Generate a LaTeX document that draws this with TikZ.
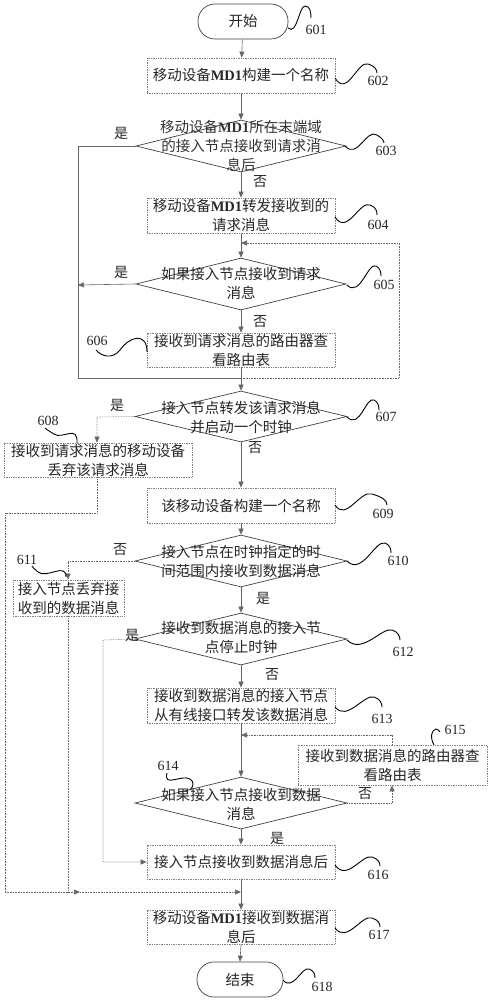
\documentclass[tikz,border=0pt]{standalone}
\usepackage{fontspec}
\setmainfont{Liberation Serif}
\newfontfamily\cjk{Noto Sans CJK SC}
\usetikzlibrary{shapes.geometric,arrows.meta}
\newcommand\mdone{{\rmfamily\bfseries MD1}}
\begin{document}
\begin{tikzpicture}[x=1pt,y=-1pt,
  ln/.style={draw=black!60, line width=0.6pt},
  dln/.style={ln, densely dotted},
  arr/.style={-{Triangle[length=6pt,width=5pt]}},
  cjktext/.style={font=\cjk\fontsize{14.5}{19}\selectfont, text=black!85, align=center},
  box/.style={cjktext, draw=black!50, densely dotted, line width=0.7pt, inner sep=0pt},
  term/.style={cjktext, draw=black!75, line width=0.7pt, rounded corners=17pt, inner sep=0pt},
  dia/.style={diamond, draw=black!75, line width=0.7pt, inner sep=0pt, minimum width=212pt, minimum height=52pt},
  num/.style={font=\fontsize{14}{14}\selectfont, text=black!85},
  yn/.style={font=\cjk\fontsize{14}{14}\selectfont, text=black!85},
  sq/.style={draw=black, line width=0.9pt}
]
\useasboundingbox (0,0) rectangle (488,1000);

% ---- nodes ----
\node[term, minimum width=90pt, minimum height=35pt] (s601) at (243,21.5) {开始};
\node[box, minimum width=188pt, minimum height=35pt] (b602) at (241,75.5) {移动设备\mdone 构建一个名称};
\node[dia, minimum width=210pt] (d603) at (241,146) {};
\node[cjktext, text=black!80] (t603) at (241,146) {移动设备\mdone 所在末端域\\的接入节点接收到请求消\\息后};
\node[box, minimum width=188pt, minimum height=35pt] (b604) at (241,215.5) {移动设备\mdone 转发接收到的\\请求消息};
\node[dia, minimum width=210pt] (d605) at (241,284) {};
\node[cjktext] (t605) at (241,283.5) {如果接入节点接收到请求\\消息};
\node[box, minimum width=188pt, minimum height=34pt] (b606) at (241,350) {接收到请求消息的路由器查\\看路由表};
\node[dia, minimum height=51pt] (d607) at (241,416.5) {};
\node[cjktext] (t607) at (241,417.5) {接入节点转发该请求消息\\并启动一个时钟};
\node[box, minimum width=188pt, minimum height=34pt] (b608) at (98,460) {接收到请求消息的移动设备\\丢弃该请求消息};
\node[box, minimum width=188pt, minimum height=35pt] (b609) at (241,505.5) {该移动设备构建一个名称};
\node[dia] (d610) at (241,561) {};
\node[cjktext] (t610) at (241,561) {接入节点在时钟指定的时\\间范围内接收到数据消息};
\node[box, minimum width=111pt, minimum height=36pt] (b611) at (68.5,598) {接入节点丢弃接\\收到的数据消息};
\node[dia] (d612) at (241,639) {};
\node[cjktext] (t612) at (241,637.5) {接收到数据消息的接入节\\点停止时钟};
\node[box, minimum width=188pt, minimum height=35pt] (b613) at (241,705.5) {接收到数据消息的接入节点\\从有线接口转发该数据消息};
\node[box, minimum width=189pt, minimum height=40pt] (b615) at (392.5,765) {接收到数据消息的路由器查\\看路由表};
\node[dia] (d614) at (241,803) {};
\node[cjktext] (t614) at (241,804) {如果接入节点接收到数据\\消息};
\node[box, minimum width=188pt, minimum height=34pt] (b616) at (241,862) {接入节点接收到数据消息后};
\node[box, minimum width=188pt, minimum height=34pt] (b617) at (241,927) {移动设备\mdone 接收到数据消\\息后};
\node[term, minimum width=86pt, minimum height=35pt] (e618) at (240,979.5) {结束};

% ---- helper coordinates ----
\coordinate (L1) at (78,146);
\coordinate (L2) at (78,378);
\coordinate (J1) at (241,378);
\coordinate (R1) at (399,378);
\coordinate (R2) at (399,243);
\coordinate (J0) at (241,243);
\coordinate (L3) at (78,285);
\coordinate (L4) at (97,417);
\coordinate (L5) at (68,561);
\coordinate (L6) at (103,640);
\coordinate (L7) at (103,862);
\coordinate (Q1) at (392,803);
\coordinate (Q2) at (392,735);
\coordinate (Q3) at (241,735);
\coordinate (B1) at (97,513);
\coordinate (B2) at (5,513);
\coordinate (B3) at (5,892);
\coordinate (B4) at (80,892);
\coordinate (B5) at (68,892);
\coordinate (B6) at (241,892);

% ---- connectors ----
\draw[ln,arr] (s601) -- (b602);
\draw[ln,arr] (b602) -- (d603.north);
\draw[ln] (d603.west) -- (L1) -- (L2) -- (J1);
\draw[ln,arr] (d603.south) -- (b604.north);
\draw[ln,arr] (b604.south) -- (d605.north);
\draw[dln,arr] (J1) -- (R1) -- (R2) -- (J0);
\draw[ln,arr] (d605.west) -- (L3);
\draw[ln,arr] (d605.south) -- (b606.north);
\draw[ln,arr] (b606.south) -- (d607.north);
\draw[dln,arr] (d607.west) -- (L4) -- (b608.north -| L4);
\draw[ln,arr] (d607.south) -- (b609.north);
\draw[ln,arr] (b609.south) -- (d610.north);
\draw[dln,arr] (d610.west) -- (L5) -- (b611.north -| L5);
\draw[ln,arr] (d610.south) -- (d612.north);
\draw[dln,arr] (d612.west) -- (L6) -- (L7) -- (b616.west);
\draw[ln,arr] (d612.south) -- (b613.north);
\draw[ln,arr] (b613.south) -- (d614.north);
\draw[dln,arr] (d614.east) -- (Q1) -- (b615.south -| Q1);
\draw[dln,arr] (b615.north -| Q2) -- (Q2) -- (Q3);
\draw[ln,arr] (d614.south) -- (b616.north);
\draw[ln,arr] (b616.south) -- (b617.north);
\draw[dln] (b608.south -| B1) -- (B1) -- (B2) -- (B3);
\draw[dln,arr] (B3) -- (B4);
\draw[dln,arr] (B4) -- (B6);
\draw[dln] (b611.south -| B5) -- (B5);
\draw[ln,arr] (b617.south) -- (e618.north);

% ---- yes / no labels ----
\node[yn] (y603) at (121,133) {是};
\node[yn] (n603) at (260,182) {否};
\node[yn] (y605) at (121,272) {是};
\node[yn] (n605) at (260,322) {否};
\node[yn] (y607) at (117,405) {是};
\node[yn] (n607) at (255,448) {否};
\node[yn] (n610) at (120,550) {否};
\node[yn] (y610) at (263,598) {是};
\node[yn] (y612) at (132,635) {是};
\node[yn] (n612) at (272,675) {否};
\node[yn] (n614) at (365,794) {否};
\node[yn] (y614) at (277,838) {是};

% ---- reference numbers and squiggles ----
\node[num] (n601) at (316,30) {601};
\draw[sq] (288,28) .. controls (297,36) and (299,6) .. (305,6) .. controls (310,6) and (311,12) .. (311,18);
\node[num] (n602) at (378,81) {602};
\draw[sq] (335,78) .. controls (347,98) and (358,60) .. (368,64) .. controls (375,66) and (377,70) .. (377,73);
\node[num] (n603) at (386,151) {603};
\draw[sq] (345,146) .. controls (358,160) and (366,128) .. (377,135) .. controls (382,138) and (384,141) .. (384,143);
\node[num] (n604) at (378,225) {604};
\draw[sq] (335,217) .. controls (347,236) and (360,200) .. (370,205) .. controls (376,207) and (377,211) .. (377,215);
\node[num] (n605) at (384,285) {605};
\draw[sq] (347,285) .. controls (360,298) and (368,262) .. (376,266) .. controls (380,268) and (381,272) .. (381,276);
\node[num] (n606) at (97,341) {606};
\draw[sq] (147,352) .. controls (147,332) and (130,336) .. (120,350) .. controls (112,360) and (101,356) .. (96,350);
\node[num] (n607) at (386,417) {607};
\draw[sq] (347,417) .. controls (360,430) and (366,396) .. (374,400) .. controls (378,402) and (379,406) .. (379,410);
\node[num] (n608) at (48,421) {608};
\draw[sq] (77,443) .. controls (78,424) and (62,440) .. (54,434) .. controls (47,430) and (45,428) .. (45,428);
\node[num] (n609) at (383,514) {609};
\draw[sq] (335,505) .. controls (346,522) and (360,490) .. (372,494) .. controls (382,497) and (387,500) .. (387,505);
\node[num] (n610) at (398,561) {610};
\draw[sq] (347,561) .. controls (362,576) and (375,540) .. (385,543) .. controls (390,545) and (391,549) .. (391,553);
\node[num] (n611) at (27,560) {611};
\draw[sq] (66,577) .. controls (66,562) and (47,579) .. (38,572) .. controls (33,568) and (32,566) .. (32,566);
\node[num] (n612) at (403,652) {612};
\draw[sq] (347,640) .. controls (362,655) and (382,627) .. (392,630) .. controls (398,632) and (400,636) .. (400,640);
\node[num] (n613) at (382,719) {613};
\draw[sq] (335,707) .. controls (347,722) and (364,694) .. (374,697) .. controls (380,699) and (382,703) .. (382,707);
\node[num] (n614) at (168,766) {614};
\draw[sq] (167,773) .. controls (163,788) and (182,774) .. (190,779) .. controls (195,782) and (193,787) .. (190,790);
\node[num] (n615) at (455,730) {615};
\draw[sq] (434,745) .. controls (430,738) and (431,730) .. (436,729) .. controls (438,729) and (439,731) .. (440,732);
\node[num] (n616) at (378,875) {616};
\draw[sq] (335,865) .. controls (347,882) and (362,854) .. (372,857) .. controls (378,859) and (380,862) .. (380,866);
\node[num] (n617) at (379,935) {617};
\draw[sq] (335,928) .. controls (347,944) and (362,914) .. (372,918) .. controls (378,920) and (380,923) .. (380,927);
\node[num] (n618) at (322,987) {618};
\draw[sq] (283,980) .. controls (293,992) and (302,966) .. (309,969) .. controls (314,971) and (315,974) .. (315,978);
\end{tikzpicture}
\end{document}
